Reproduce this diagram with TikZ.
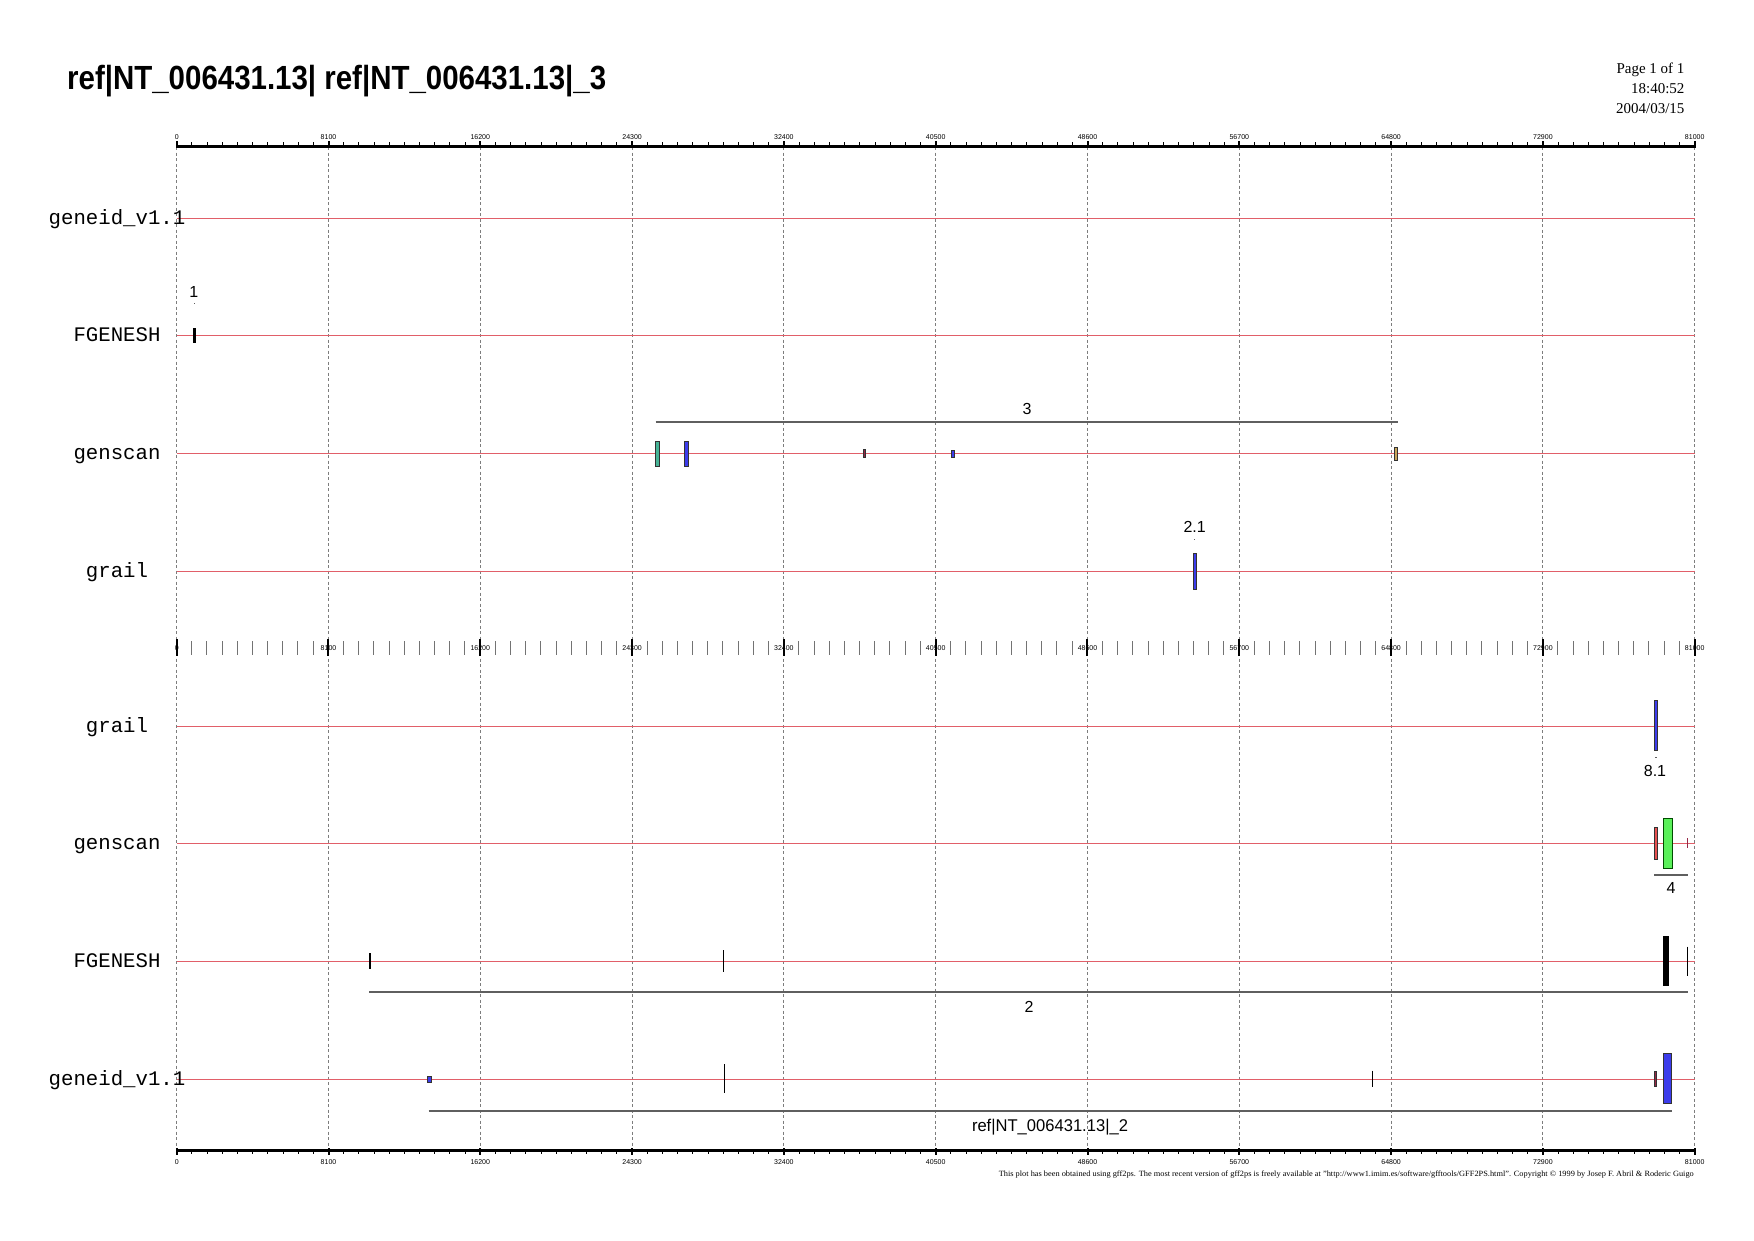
\documentclass[tikz,border=0pt]{standalone}
\usepackage{fontspec}
\setmainfont{Liberation Serif}
\setsansfont{Liberation Sans}
\setmonofont{Liberation Mono}
\usepackage{graphicx}
\definecolor{trk}{RGB}{225,95,105}
\definecolor{gline}{RGB}{95,95,95}
\definecolor{gridc}{RGB}{125,125,125}
\definecolor{fblue}{RGB}{60,60,235}
\definecolor{fteal}{RGB}{70,180,150}
\definecolor{fred}{RGB}{230,80,80}
\definecolor{fgreen}{RGB}{90,240,90}
\definecolor{fdred}{RGB}{150,40,70}
\definecolor{ftan}{RGB}{200,165,90}
\tikzset{
  track/.style={trk, line width=1pt},
  gridline/.style={gridc, dash pattern=on 3pt off 2.5pt, line width=0.7pt},
  genel/.style={gline, line width=1.6pt},
  feat/.style={draw=black!80, line width=0.6pt},
  thintick/.style={black, line width=1.3pt},
  tracklab/.style={font=\ttfamily\fontsize{20.7}{24}\selectfont, anchor=base, inner sep=0pt},
  numlab/.style={font=\sffamily\fontsize{16}{18}\selectfont, anchor=center, inner sep=0pt},
  ticklab/.style={font=\sffamily\fontsize{7}{8}\selectfont, inner sep=0pt},
  infolab/.style={font=\rmfamily\fontsize{15}{18}\selectfont, anchor=base east, inner sep=0pt},
}
\begin{document}
\begin{tikzpicture}[x=1pt, y=-1pt]
\useasboundingbox (0,0) rectangle (1754,1240);
\fill[white] (0,0) rectangle (1754,1240);

% title and page info
\node[anchor=base west, inner sep=0pt] (title) at (67,89.5)
  {\resizebox{539pt}{\height}{\sffamily\bfseries\fontsize{33.5}{40}\selectfont ref|NT\_006431.13| ref|NT\_006431.13|\_3}};
\node[infolab] (page) at (1684.6,73.8) {Page 1 of 1};
\node[infolab] (time) at (1684.6,93.5) {18:40:52};
\node[infolab] (date) at (1684.6,113.2) {2004/03/15};

% grid
\foreach \j in {0,...,10} \draw[gridline] ({176.5+\j*151.8},147) -- ({176.5+\j*151.8},1149);

% track lines
\foreach \y in {218.5,335.5,453.5,571.5,726.5,843.5,961.5,1079.5}
  \draw[track] (176.7,\y) -- (1694.7,\y);

% track labels
\node[tracklab] (t1) at (117,224.5) {geneid\_v1.1};
\node[tracklab] (t2) at (117,341.5) {FGENESH};
\node[tracklab] (t3) at (117,459.5) {genscan};
\node[tracklab] (t4) at (117,577.5) {grail};
\node[tracklab] (b1) at (117,732.5) {grail};
\node[tracklab] (b2) at (117,849.5) {genscan};
\node[tracklab] (b3) at (117,967.5) {FGENESH};
\node[tracklab] (b4) at (117,1085.5) {geneid\_v1.1};

% ---- top panel features
% FGENESH 1
\fill[black] (193.4,328) rectangle (195.9,343);
\draw[gline, line width=0.8pt] (194,303) -- (195.2,303);
\node[numlab] (g1) at (193.8,292) {1};
% genscan 3
\draw[genel] (655.5,421.7) -- (1398,421.7);
\node[numlab] (g3) at (1027,409.4) {3};
\filldraw[feat, fill=fteal] (655,441) rectangle (659,466);
\filldraw[feat, fill=fblue] (684,441) rectangle (688,466);
\filldraw[feat, fill=fdred] (863.6,449) rectangle (865.6,457);
\filldraw[feat, fill=fblue] (951.6,450) rectangle (954.4,457);
\filldraw[feat, fill=ftan] (1394.5,447) rectangle (1397.5,460);
% grail 2.1
\filldraw[feat, fill=fblue] (1193,553.7) rectangle (1196.4,589.5);
\draw[gline, line width=0.8pt] (1194.2,539) -- (1195.3,539);
\node[numlab] (g21) at (1194.7,527) {2.1};

% ---- bottom panel features
% grail 8.1
\filldraw[feat, fill=fblue] (1654,700) rectangle (1657.6,750.7);
\draw[gline, line width=0.8pt] (1655,757.5) -- (1656.5,757.5);
\node[numlab] (g81) at (1655,770.7) {8.1};
% genscan 4
\filldraw[feat, fill=fred] (1654.3,827.3) rectangle (1657.7,859.3);
\filldraw[feat, draw=black!70!green, fill=fgreen] (1663.3,818.3) rectangle (1672.7,868.3);
\draw[fdred, line width=1pt] (1687.3,838) -- (1687.3,848);
\draw[genel] (1654.3,875) -- (1687.7,875);
\node[numlab] (g4) at (1671,888) {4};
% FGENESH 2
\draw[thintick] (370,953) -- (370,969);
\draw[thintick] (723.7,950) -- (723.7,972);
\fill[black] (1663.3,936) rectangle (1669,986);
\draw[black, line width=1pt] (1687.3,946.7) -- (1687.3,975.7);
\draw[genel] (369,992.2) -- (1688,992.2);
\node[numlab] (g2) at (1029,1006.7) {2};
% geneid ref|NT_006431.13|_2
\filldraw[feat, fill=fblue] (427,1076) rectangle (431,1082);
\draw[black, line width=1pt] (724,1064) -- (724,1092.7);
\draw[black, line width=1pt] (1372.5,1070.7) -- (1372.5,1086.7);
\filldraw[feat, fill=fdred] (1654.3,1071) rectangle (1656.7,1086);
\filldraw[feat, fill=fblue] (1663.3,1053.3) rectangle (1671.7,1103.3);
\draw[genel] (428.5,1110.8) -- (1671.5,1110.8);
\node[anchor=base, inner sep=0pt] (gref) at (1050,1131)
  {\resizebox{156pt}{\height}{\sffamily\fontsize{17}{20}\selectfont ref|NT\_006431.13|\_2}};

% ---- top axis
\draw[line width=3pt] (176.7,146) -- (1694.7,146);
\foreach \i in {0,...,100} \draw[line width=0.9pt] ({176.7+\i*15.18},146) -- ++(0,-4.5);
\foreach \j/\lab in {0/0,1/8100,2/16200,3/24300,4/32400,5/40500,6/48600,7/56700,8/64800,9/72900,10/81000}{
  \draw[line width=2pt] ({176.7+\j*151.8},148) -- ({176.7+\j*151.8},140.5);
  \node[ticklab, anchor=base] (ta\j) at ({176.7+\j*151.8},139) {\lab};
}
% ---- middle axis
\foreach \i in {0,...,100} \draw[black!55, line width=1pt] ({176.5+\i*15.18},641) -- ++(0,14);
\foreach \j/\lab in {0/0,1/8100,2/16200,3/24300,4/32400,5/40500,6/48600,7/56700,8/64800,9/72900,10/81000}{
  \draw[line width=2pt] ({176.5+\j*151.8},639) -- ({176.5+\j*151.8},656);
  \node[ticklab, anchor=base] (ma\j) at ({176.7+\j*151.8},650.5) {\lab};
}
% ---- bottom axis
\draw[line width=3pt] (176.7,1150) -- (1694.7,1150);
\foreach \i in {0,...,100} \draw[line width=0.9pt] ({176.7+\i*15.18},1150) -- ++(0,4);
\foreach \j/\lab in {0/0,1/8100,2/16200,3/24300,4/32400,5/40500,6/48600,7/56700,8/64800,9/72900,10/81000}{
  \draw[line width=2pt] ({176.7+\j*151.8},1148) -- ({176.7+\j*151.8},1155);
  \node[ticklab, anchor=base] (ba\j) at ({176.7+\j*151.8},1164) {\lab};
}

% footer
\node[anchor=base east, inner sep=0pt] (foot) at (1694,1176)
  {\resizebox{695pt}{\height}{\rmfamily\fontsize{8}{9}\selectfont This plot has been obtained using gff2ps. The most recent version of gff2ps is freely available at "http://www1.imim.es/software/gfftools/GFF2PS.html". Copyright \textcopyright{} 1999 by Josep F. Abril \& Roderic Guigo}};
\end{tikzpicture}
\end{document}
